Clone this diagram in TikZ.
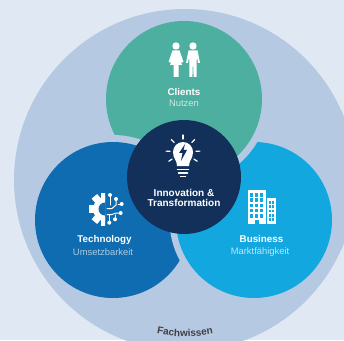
\documentclass[tikz,border=0pt]{standalone}
\usepackage{fontspec}
\setmainfont{Liberation Sans}
\usetikzlibrary{decorations.text}
\definecolor{paleBg}{HTML}{E0E9F3}
\definecolor{ringBlue}{HTML}{B5C9E3}
\definecolor{clientGreen}{HTML}{4DAF9F}
\definecolor{techBlue}{HTML}{0F6CB0}
\definecolor{bizBlue}{HTML}{13A7E0}
\definecolor{coreNavy}{HTML}{12305A}

\begin{document}
\begin{tikzpicture}[x=1pt, y=1pt, line cap=round, line join=round,
	title/.style={font=\fontsize{9.8}{11}\selectfont\bfseries, text=white, inner sep=0pt},
	sub/.style={font=\fontsize{9.4}{11}\selectfont, inner sep=0pt},
	icon/.style={fill=white, draw=none},
	trace/.style={draw=white, line width=1pt}]
	
	\useasboundingbox (0,0) rectangle (344,340);
	\clip (0,0) rectangle (344,340);
	
	%========================
	% Background and outer ring
	%========================
	\fill[paleBg] (0,0) rectangle (344,340);
	\fill[ringBlue] (185,160) circle (171);
	
	%========================
	% Three discs (each one overlaps the next, with a halo)
	%========================
	\fill[bizBlue] (254,120) circle (78);
	
	\fill[ringBlue] (184,241) circle (85);
	\fill[clientGreen] (184,241) circle (78);
	
	\fill[ringBlue] (113,120) circle (85);
	\fill[techBlue] (113,120) circle (78);
	
	% business again, lower part only, so that it lies over technology
	\begin{scope}
		\clip (150,0) rectangle (344,150);
		\fill[ringBlue] (254,120) circle (84.5);
		\fill[bizBlue] (254,120) circle (78);
	\end{scope}
	
	% centre disc
	\fill[coreNavy] (184,163) circle (57);
	
	%========================
	% Clients: two figures
	%========================
	\fill[icon] (176,294) circle (3.7);
	\fill[icon] (172.5,289.5) -- (179.5,289.5) -- (183.5,278) -- (181.5,277.5) -- (179,284)
		-- (182,275) -- (178.6,275) -- (178.6,263) -- (173.6,263) -- (173.6,275) -- (170,275)
		-- (173,284) -- (170.5,277.5) -- (168.5,278) -- cycle;
	\fill[icon] (193,294) circle (3.7);
	\fill[icon] (188.5,289.5) -- (197.5,289.5) -- (200,277) -- (198,277) -- (196.8,284)
		-- (196.5,263) -- (193.6,263) -- (193.2,275) -- (192.8,275) -- (192.4,263) -- (189.5,263)
		-- (189.2,284) -- (188,277) -- (186,277) -- cycle;
	
	%========================
	% Innovation: bulb
	%========================
	\foreach \ang in {90,47,3,-33,133,177,213}
		\draw[white, line width=1.2pt] (183,188) ++(\ang:13) -- ++(\ang:4);
	\fill[icon] (177,174) .. controls (177,180) and (173,181) .. (173,188)
		arc (180:0:10) .. controls (193,181) and (189,180) .. (189,174) -- cycle;
	\fill[coreNavy] (185,196) -- (179,187) -- (182.5,187) -- (181,179) -- (187,190) -- (183.5,190) -- cycle;
	\foreach \yy/\hw in {170.5/5.5, 167/4.5, 163.5/2.5}
		\draw[white, line width=1.5pt] (183-\hw,\yy) -- (183+\hw,\yy);
	
	%========================
	% Technology: half gear and circuit
	%========================
	\begin{scope}
		\clip (80,100) rectangle (105,165);
		\foreach \ang in {90,130,180,230,270}
			\fill[icon, rotate around={\ang:(105,131)}] (105+9,131-3.6) rectangle (105+16.5,131+3.6);
		\fill[icon] (105,131) circle (12);
		\fill[techBlue] (105,131) circle (6.5);
	\end{scope}
	\foreach \px/\py in {110/145, 116/141, 121.7/136, 120.7/127, 115/120.7, 109.3/117.3}
		\fill[icon] (\px,\py) circle (2);
	\draw[trace] (110,145) -- (110,135);
	\draw[trace] (116,141) -- (116,135) -- (112,131.5) -- (107,131.5);
	\draw[trace] (121.7,136) -- (118,136);
	\draw[trace] (120.7,127) -- (116,127) -- (112,125.5) -- (107,125.5);
	\draw[trace] (115,120.7) -- (115,125);
	\draw[trace] (109.3,117.3) -- (109.3,125.5);
	
	%========================
	% Business: two buildings
	%========================
	\fill[icon] (248,116) rectangle (265.5,150);
	\fill[icon] (267,116) rectangle (275.5,142);
	\foreach \row in {0,...,4}{
		\foreach \col in {0,1,2}
			\fill[bizBlue] (250.2+5*\col,143.5-5.3*\row) rectangle ++(3.2,3.6);
		\foreach \col in {0,1}
			\fill[bizBlue] (268.5+3.4*\col,136-4.2*\row) rectangle ++(2.2,2.8);
	}
	\fill[bizBlue] (255,116) rectangle (258.5,120.5);
	
	%========================
	% Labels
	%========================
	\node[title] (clientsName) at (184,248) {Clients};
	\node[sub, text=white!72!clientGreen] (clientsSub) at (184,237) {Nutzen};
	
	\node[title, font=\fontsize{10}{11}\selectfont\bfseries] (coreNameA) at (184,147) {Innovation \&};
	\node[title, font=\fontsize{10}{11}\selectfont\bfseries] (coreNameB) at (184,137) {Transformation};
	
	\node[title] (techName) at (104.5,100) {Technology};
	\node[sub, text=white!65!techBlue] (techSub) at (103,88) {Umsetzbarkeit};
	
	\node[title] (bizName) at (261.5,101) {Business};
	\node[sub, text=white!72!bizBlue] (bizSub) at (260,88) {Marktfähigkeit};
	
	% ring label along the arc
	\path[decorate, decoration={text along path, text align=center,
		text={|\fontsize{10}{12}\selectfont\bfseries\color{black!75}|Fachwissen}}]
		([shift={(235:156.5)}]185,160) arc (235:305:156.5);
	
\end{tikzpicture}
\end{document}
